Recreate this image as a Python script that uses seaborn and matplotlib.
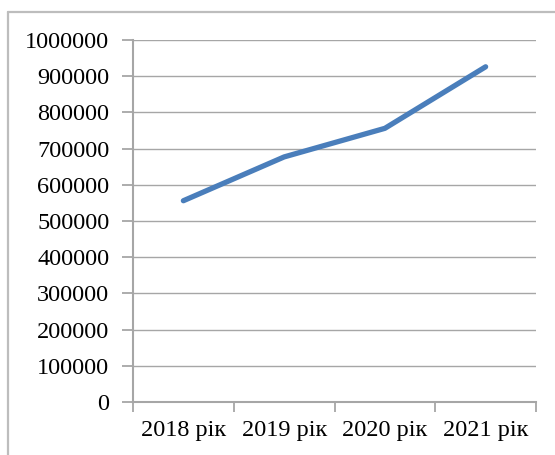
import matplotlib
matplotlib.use("Agg")
import matplotlib.pyplot as plt
import seaborn as sns
import pandas as pd
from matplotlib.lines import Line2D
from matplotlib.ticker import FixedLocator, MultipleLocator, NullFormatter

categories = ["2018 рік", "2019 рік", "2020 рік", "2021 рік"]
values = [556000, 677000, 756000, 926000]

sns.set_theme(style="white")
plt.rcParams['font.family'] = ['Liberation Serif', 'DejaVu Serif']

df = pd.DataFrame({"cat": categories, "val": values})

fig = plt.figure(figsize=(5.55, 4.55), dpi=100)
ax = fig.add_axes([133/555, 1-402/455, (536-133)/555, (402-40)/455])

sns.lineplot(data=df, x="cat", y="val", ax=ax, color="#4A7EBB", linewidth=3.8,
             solid_capstyle="round", sort=False)

ax.set_xlim(-0.5, len(categories) - 0.5)
ax.set_ylim(0, 1000000)
ax.yaxis.set_major_locator(MultipleLocator(100000))
ax.yaxis.set_major_formatter(matplotlib.ticker.FuncFormatter(lambda v, p: f"{int(round(v))}"))
ax.grid(axis="y", color="#A6A6A6", linewidth=1.0)
ax.set_axisbelow(True)

ax.set_xticks(range(len(categories)))
ax.set_xticklabels(categories)
ax.xaxis.set_minor_locator(FixedLocator([i - 0.5 for i in range(len(categories) + 1)]))
ax.xaxis.set_minor_formatter(NullFormatter())
ax.tick_params(axis="x", which="major", length=0, pad=13, labelsize=17.5, colors="#000000")
ax.tick_params(axis="x", which="minor", length=7, width=1.3, color="#A6A6A6", direction="out", bottom=True)
ax.tick_params(axis="y", which="major", length=8, width=1.3, color="#A6A6A6", direction="out",
               pad=9, labelsize=17.5, left=True, labelcolor="#000000")

ax.set_xlabel("")
ax.set_ylabel("")
for s in ["top", "right"]:
    ax.spines[s].set_visible(False)
for s in ["left", "bottom"]:
    ax.spines[s].set_color("#A6A6A6")
    ax.spines[s].set_linewidth(1.5)

# outer chart border (Excel style)
fig.add_artist(Line2D([8/555, 1], [1-12/455, 1-12/455], color="#BDBDBD", linewidth=1.6, transform=fig.transFigure))
fig.add_artist(Line2D([8/555, 8/555], [0, 1-12/455], color="#BDBDBD", linewidth=1.6, transform=fig.transFigure))

fig.savefig("out.png", dpi=100, facecolor="white")
